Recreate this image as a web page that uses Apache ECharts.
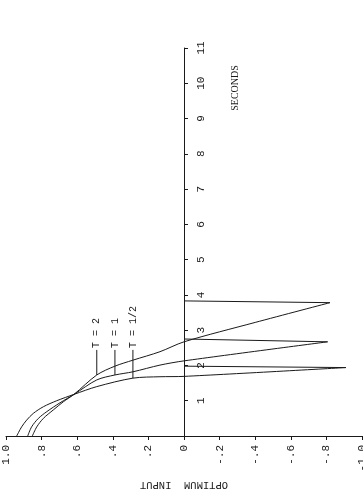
<!DOCTYPE html>
<html><head><meta charset="utf-8">
<script src="https://cdn.jsdelivr.net/npm/echarts@6/dist/echarts.min.js"></script>
<style>html,body{margin:0;padding:0;background:#fff}#c{width:363px;height:502px}</style>
</head><body><div id="c"></div>
<script>
// Data (time in seconds, optimum input)
const seriesNames = ['T = 2', 'T = 1', 'T = 1/2'];
const t2Time   = [0, 0.26, 0.5, 0.74, 0.97, 1.18, 1.73, 1.98, 2.15, 2.39, 2.67, 3.22, 3.78, 3.83];
const t2Input  = [0.852, 0.827, 0.79, 0.734, 0.678, 0.618, 0.49, 0.388, 0.287, 0.135, 0, -0.40, -0.82, 0];
const t1Time   = [0, 0.26, 0.5, 0.69, 0.94, 1.18, 1.59, 1.73, 1.82, 2.01, 2.13, 2.67, 2.75];
const t1Input  = [0.878, 0.856, 0.818, 0.771, 0.697, 0.618, 0.49, 0.388, 0.287, 0.135, 0, -0.807, 0];
const tHalfTime  = [0, 0.26, 0.45, 0.64, 0.83, 1.0, 1.18, 1.40, 1.64, 1.68, 1.69, 1.94, 1.98];
const tHalfInput = [0.94, 0.912, 0.884, 0.847, 0.79, 0.715, 0.618, 0.49, 0.287, 0.135, 0, -0.91, 0];
// leader lines for the curve labels
const leaderInput     = [0.49, 0.388, 0.287];
const leaderTimeCurve = [1.73, 1.73, 1.64];
const leaderTimeTop   = [2.44, 2.44, 2.44];
// tick labels
const inputTickLabels = ['-1.0', '-.8', '-.6', '-.4', '-.2', '0', '.2', '.4', '.6', '.8', '1.0'];
const timeTickLabels  = ['', '1', '2', '3', '4', '5', '6', '7', '8', '9', '10', '11'];

const ink = '#1a1a1a';
const mono = 'Liberation Mono';
const pairs = (t, v) => t.map((x, i) => [v[i], x]);

const curves = [[t2Time, t2Input], [t1Time, t1Input], [tHalfTime, tHalfInput]];
const series = [];
curves.forEach(([t, v], i) => {
  const d = pairs(t, v);
  series.push({ type: 'line', name: seriesNames[i], data: d.slice(0, d.length - 1),
    symbol: 'none', smooth: 0.3,
    lineStyle: { color: ink, width: 1 }, silent: true });
  series.push({ type: 'line', data: d.slice(d.length - 2),
    symbol: 'none', lineStyle: { color: ink, width: 1 }, silent: true });
});
seriesNames.forEach((n, i) => {
  series.push({ type: 'line',
    data: [[leaderInput[i], leaderTimeCurve[i]], [leaderInput[i], leaderTimeTop[i]]],
    symbol: 'none', lineStyle: { color: ink, width: 1 }, silent: true });
});

const chart = echarts.init(document.getElementById('c'), null, { renderer: 'canvas' });
const W = 363, gridLeft = 6, gridRight = 1;
const yAxisOpt = {
  type: 'value', min: 0, max: 11, interval: 1, position: 'right', offset: 0,
  axisLine: { onZero: false, lineStyle: { color: ink, width: 1 } },
  axisTick: { length: 4, lineStyle: { color: ink, width: 1 } },
  splitLine: { show: false },
  axisLabel: { rotate: 90, margin: 12, fontFamily: mono, fontSize: 11, color: ink,
    formatter: v => timeTickLabels[Math.round(v)] }
};
chart.setOption({
  animation: false,
  backgroundColor: '#fff',
  grid: { left: gridLeft, right: gridRight, top: 48, bottom: 66, containLabel: false, outerBoundsMode: 'none' },
  xAxis: {
    type: 'value', min: -1, max: 1, interval: 0.2, inverse: true, position: 'bottom',
    axisLine: { onZero: false, lineStyle: { color: ink, width: 1 } },
    axisTick: { length: 4, lineStyle: { color: ink, width: 1 } },
    splitLine: { show: false },
    axisLabel: { rotate: 90, margin: 9, fontFamily: mono, fontSize: 11, color: ink,
      formatter: v => inputTickLabels[Math.round((v + 1) / 0.2)] },
    name: 'OPTIMUM  INPUT', nameLocation: 'middle', nameGap: 42, nameRotate: 180,
    nameTextStyle: { fontFamily: mono, fontSize: 10.5, color: ink }
  },
  yAxis: yAxisOpt,
  series: series
});

// move the time axis onto input = 0 (offset from the grid's right edge)
const zeroX = chart.convertToPixel({ xAxisIndex: 0 }, 0);
const rightX = W - gridRight;
chart.setOption({ yAxis: { offset: zeroX - rightX } });

// place curve labels and SECONDS from data coordinates
const labelGraphics = seriesNames.map((n, i) => {
  const p = chart.convertToPixel({ gridIndex: 0 }, [leaderInput[i], leaderTimeTop[i]]);
  return { type: 'text', x: p[0], y: p[1] - 2, rotation: Math.PI / 2,
    style: { text: n, fontFamily: mono, fontSize: 10, fill: ink, align: 'left', verticalAlign: 'middle' } };
});
labelGraphics.push({ type: 'text', x: 235, y: 88, rotation: Math.PI / 2,
  style: { text: 'SECONDS', fontFamily: 'Liberation Serif', fontSize: 10, fill: ink,
           align: 'center', verticalAlign: 'middle' } });
chart.setOption({ graphic: labelGraphics });
</script></body></html>
